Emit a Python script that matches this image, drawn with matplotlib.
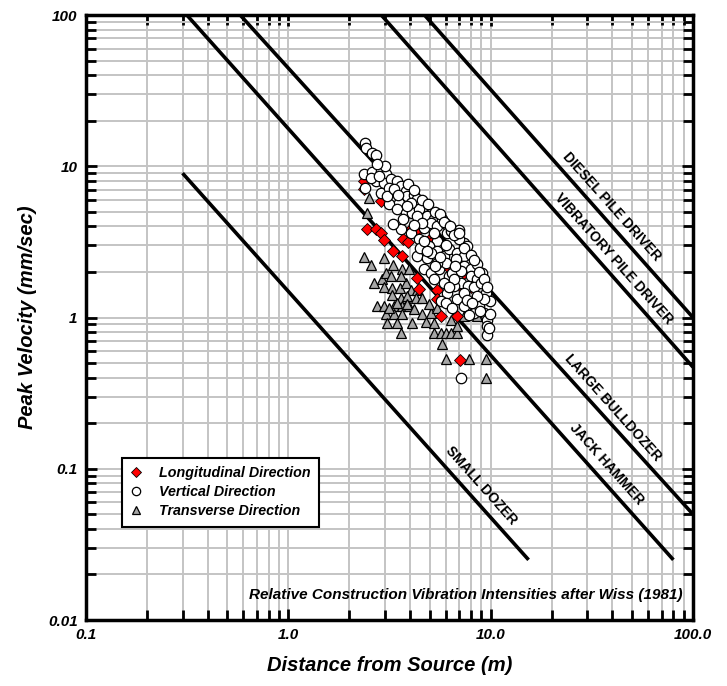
import numpy as np
import matplotlib
matplotlib.use("Agg")
import matplotlib.pyplot as plt
from matplotlib.ticker import FixedLocator, NullFormatter

plt.rcParams['font.family'] = ['Liberation Sans', 'DejaVu Sans']

# Wiss (1981) reference lines: (x0, y0) -> (x1, y1)
line_names = ["SMALL DOZER", "JACK HAMMER", "LARGE BULLDOZER",
              "VIBRATORY PILE DRIVER", "DIESEL PILE DRIVER"]
line_x0 = [0.30, 0.315, 0.578, 2.88, 4.71]
line_y0 = [9.0, 100.0, 100.0, 100.0, 100.0]
line_x1 = [15.4, 80.0, 100.0, 100.0, 100.0]
line_y1 = [0.025, 0.025, 0.05, 0.47, 1.0]
# label centres (data coords)
label_x = [9.0, 37.5, 40.2, 40.6, 39.7]
label_y = [0.078, 0.108, 0.254, 2.46, 5.43]

# Longitudinal direction (red diamonds)
long_x = [2.36, 2.36, 2.45, 2.70, 2.88, 2.97, 3.30, 3.66, 3.70, 3.90, 4.02, 4.38,
          4.10, 4.86, 5.05, 4.31, 4.40, 5.45, 5.99, 5.66, 2.86, 7.05, 8.59, 6.84,
          7.96, 7.38, 5.45, 4.34, 5.05, 6.10, 7.38]
long_y = [8.0, 7.05, 3.87, 3.87, 3.64, 3.24, 2.75, 2.57, 3.29, 3.16, 3.83, 3.77,
          3.93, 2.90, 3.37, 1.82, 1.55, 1.53, 1.70, 1.02, 5.9, 0.52, 1.30, 1.03,
          1.58, 1.53, 1.32, 3.83, 3.13, 2.19, 1.98]

# Vertical direction (white circles)
vert_x = [2.38, 2.42, 2.59, 2.71, 2.92, 2.36, 2.60, 2.86, 3.03, 2.40, 2.70, 2.97,
          3.20, 2.86, 3.14, 3.45, 3.59, 3.80, 3.32, 3.52, 3.87, 4.18, 4.34, 4.68,
          3.14, 3.45, 3.80, 4.10, 4.42, 4.86, 5.24, 3.59, 4.02, 4.42, 4.68, 5.05,
          5.45, 5.77, 5.99, 6.10, 5.45, 4.95, 4.34, 4.86, 5.45, 5.88, 6.22, 4.68,
          5.05, 5.55, 5.99, 6.22, 5.88, 6.10, 5.66, 5.99, 6.97, 6.34, 7.38, 6.97,
          7.67, 6.84, 7.38, 6.71, 7.38, 7.96, 8.59, 6.46, 7.11, 7.96, 8.53, 9.09,
          7.11, 7.73, 8.27, 8.92, 9.45, 9.93, 6.84, 7.38, 8.27, 8.75, 9.27, 9.56,
          9.63, 9.63, 7.11, 7.82, 6.46, 9.27, 8.59, 7.38, 6.59, 2.55, 2.80, 3.08,
          3.32, 4.02, 4.34, 4.59, 3.87, 5.24, 5.05, 4.50, 5.45, 5.24, 4.86, 3.30,
          3.90, 4.20, 4.60, 4.90, 5.30, 5.60, 5.90, 6.30, 6.60, 7.00, 7.40, 8.00,
          8.30, 8.80, 9.30, 9.60, 9.90, 9.80, 6.00, 6.70, 5.60, 5.30, 4.70, 4.20,
          3.70, 3.50, 3.00, 2.75, 6.60, 7.60, 8.10, 8.90, 6.20]
vert_y = [14.3, 13.2, 12.2, 11.8, 9.7, 8.9, 9.1, 9.3, 8.9, 7.2, 8.0, 7.8,
          8.2, 6.7, 7.2, 8.0, 7.4, 6.9, 6.05, 5.75, 6.37, 6.5, 6.05, 5.47,
          5.6, 5.2, 4.94, 4.94, 5.2, 4.69, 4.46, 3.83, 3.64, 3.29, 3.93, 4.24,
          4.03, 4.46, 4.13, 3.64, 3.21, 2.97, 2.55, 2.49, 2.75, 2.55, 2.82, 2.08,
          1.98, 2.08, 2.30, 1.88, 1.70, 1.46, 1.28, 1.25, 3.79, 3.74, 3.10, 3.29,
          2.97, 2.68, 2.57, 2.44, 2.19, 2.10, 2.25, 1.98, 2.03, 1.88, 1.79, 1.98,
          1.70, 1.61, 1.60, 1.70, 1.46, 1.28, 1.32, 1.19, 1.07, 1.19, 1.07, 0.97,
          0.88, 0.77, 0.40, 1.04, 1.16, 1.32, 1.39, 1.46, 1.61, 8.4, 8.6, 6.4,
          7.05, 5.75, 4.69, 4.24, 5.47, 3.64, 2.68, 2.90, 2.30, 1.79, 2.75, 4.13,
          7.6, 7.0, 6.0, 5.6, 5.0, 4.8, 4.3, 4.0, 3.5, 3.6, 2.9, 2.6,
          2.4, 2.0, 1.8, 1.6, 1.05, 0.85, 3.0, 2.2, 2.5, 2.2, 3.2, 4.1,
          4.5, 6.5, 10.0, 10.4, 1.8, 1.3, 1.25, 1.1, 1.6]

# Transverse direction (grey triangles)
trans_x = [2.50, 2.45, 2.36, 2.55, 2.97, 3.30, 3.64, 2.65, 2.92, 2.97, 3.26, 3.56,
           3.80, 4.02, 4.34, 3.26, 3.59, 3.87, 4.26, 4.59, 2.75, 2.97, 3.32, 3.64,
           3.97, 3.03, 3.32, 3.64, 4.59, 5.05, 5.45, 3.08, 3.45, 4.10, 4.77, 5.24,
           3.59, 5.24, 5.66, 5.99, 5.77, 5.99, 3.14, 3.45, 3.87, 4.18, 4.95, 3.03,
           3.20, 3.59, 3.95, 6.34, 6.84, 7.82, 9.45, 9.45, 7.38, 7.96, 8.59, 6.34,
           6.84]
trans_y = [6.2, 4.94, 2.52, 2.21, 2.47, 2.21, 2.10, 1.70, 1.81, 1.60, 1.57, 1.57,
           1.70, 1.52, 1.52, 1.40, 1.35, 1.39, 1.35, 1.35, 1.19, 1.19, 1.19, 1.19,
           1.19, 1.05, 1.06, 1.05, 1.06, 1.07, 1.16, 0.92, 0.92, 0.92, 0.93, 0.92,
           0.79, 0.79, 0.79, 0.79, 0.67, 0.53, 1.16, 1.25, 1.22, 1.13, 1.22, 1.98,
           1.88, 1.88, 2.08, 0.79, 0.79, 0.53, 0.53, 0.40, 1.02, 1.07, 1.02, 0.97,
           0.88]

x_major = [0.1, 1, 10, 100]
x_labels = ["0.1", "1.0", "10.0", "100.0"]
y_major = [0.01, 0.1, 1, 10, 100]
y_labels = ["0.01", "0.1", "1", "10", "100"]

fig = plt.figure(figsize=(7.27, 6.86), dpi=100)
ax = fig.add_axes([0.1183, 0.0962, 0.8349, 0.8819])
ax.set_xscale('log')
ax.set_yscale('log')
ax.set_xlim(0.1, 100)
ax.set_ylim(0.01, 100)

minor = [m * d for d in [0.001, 0.01, 0.1, 1, 10] for m in range(2, 10)]
ax.xaxis.set_major_locator(FixedLocator(x_major))
ax.xaxis.set_minor_locator(FixedLocator(minor))
ax.yaxis.set_major_locator(FixedLocator(y_major))
ax.yaxis.set_minor_locator(FixedLocator(minor))
ax.xaxis.set_minor_formatter(NullFormatter())
ax.yaxis.set_minor_formatter(NullFormatter())
ax.set_xticklabels(x_labels)
ax.set_yticklabels(y_labels)

ax.set_axisbelow(True)
ax.grid(True, which='both', color='#c4c4c4', lw=1.4)
ax.tick_params(which='both', direction='in', top=True, right=True, width=2)
ax.tick_params(which='major', length=8, labelsize=11, pad=6)
ax.tick_params(which='minor', length=7)
for lab in ax.get_xticklabels() + ax.get_yticklabels():
    lab.set_fontweight('bold')
    lab.set_fontstyle('italic')
for s in ax.spines.values():
    s.set_linewidth(2.5)

# reference lines
for i in range(len(line_names)):
    ax.plot([line_x0[i], line_x1[i]], [line_y0[i], line_y1[i]],
            color='black', lw=2.6, solid_capstyle='butt', zorder=3)

# rotation angle in screen space
fig.canvas.draw()
p0 = ax.transData.transform((line_x0[1], line_y0[1]))
p1 = ax.transData.transform((line_x1[1], line_y1[1]))
ang = np.degrees(np.arctan2(p1[1] - p0[1], p1[0] - p0[0]))
for i in range(len(line_names)):
    ax.text(label_x[i], label_y[i], line_names[i], rotation=ang,
            rotation_mode='anchor', ha='center', va='center',
            fontsize=10, fontweight='bold', zorder=4)

ax.plot(trans_x, trans_y, '^', ms=7.5, mfc='#a6a6a6', mec='black', mew=0.9,
        ls='none', zorder=5, label='Transverse Direction')
ax.plot(long_x, long_y, 'D', ms=6.5, mfc='#ff0000', mec='black', mew=0.6,
        ls='none', zorder=6, label='Longitudinal Direction')
ax.plot(vert_x, vert_y, 'o', ms=7.5, mfc='white', mec='black', mew=0.9,
        ls='none', zorder=7, label='Vertical Direction')

h, l = ax.get_legend_handles_labels()
order = [1, 2, 0]
leg = ax.legend([h[k] for k in order], [l[k] for k in order],
                loc='upper left', bbox_to_anchor=(0.059, 0.268),
                borderaxespad=0, fancybox=False, framealpha=1,
                edgecolor='black', markerscale=0.8, handlelength=0.8,
                handletextpad=1.2, labelspacing=0.35, borderpad=0.6,
                prop={'weight': 'bold', 'style': 'italic', 'size': 10.3})
leg.get_frame().set_linewidth(1.5)
leg.set_zorder(10)

ax.text(0.983, 0.041, "Relative Construction Vibration Intensities after Wiss (1981)",
        transform=ax.transAxes, ha='right', va='center', fontsize=11,
        fontweight='bold', fontstyle='italic', zorder=4)

ax.set_xlabel("Distance from Source (m)", fontsize=14.5, fontweight='bold',
              fontstyle='italic', labelpad=10)
ax.set_ylabel("Peak Velocity (mm/sec)", fontsize=14.5, fontweight='bold',
              fontstyle='italic', labelpad=8)

fig.savefig("out.png", dpi=100)
